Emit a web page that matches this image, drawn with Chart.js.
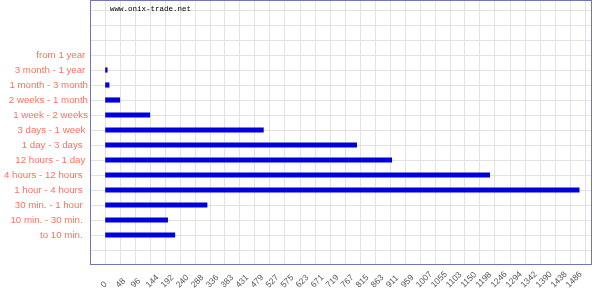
<!DOCTYPE html>
<html>
<head>
<meta charset="utf-8">
<script src="https://cdn.jsdelivr.net/npm/chart.js@4/dist/chart.umd.min.js"></script>
<style>
  html, body { margin: 0; padding: 0; background: #fff; }
  canvas { display: block; }
</style>
</head>
<body>
<canvas id="chart" width="600" height="300"></canvas>
<script>
// categorias (de arriba a abajo) y valores
const categories = [
  "from 1 year ", "3 month - 1 year ", "1 month - 3 month", "2 weeks - 1 month",
  "1 week - 2 weeks", "3 days - 1 week ", "1 day - 3 days  ", "12 hours - 1 day ",
  "4 hours - 12 hours  ", "1 hour - 4 hours  ", "30 min. - 1 hour  ",
  "10 min. - 30 min.  ", "to 10 min.  "
];
const values = [0, 7, 13, 47, 143, 506, 804, 916, 1229, 1515, 326, 200, 223];

// etiquetas del eje x
const xTickLabels = [0, 48, 96, 144, 192, 240, 288, 336, 383, 431, 479, 527, 575, 623, 671, 719,
  767, 815, 863, 911, 959, 1007, 1055, 1103, 1150, 1198, 1246, 1294, 1342, 1390, 1438, 1486];

const siteText = "www.onix-trade.net";

// filas vacias arriba y abajo
const padTop = 3, padBottom = 1;
const rowCount = categories.length + padTop + padBottom;
const xStep = xTickLabels[1] - xTickLabels[0];
const xLast = xTickLabels[xTickLabels.length - 1];

const extras = {
  id: "extras",
  afterDraw(chart) {
    const { ctx, chartArea: a, scales } = chart;
    ctx.save();
    // marco
    ctx.strokeStyle = "#7373b8";
    ctx.lineWidth = 1;
    ctx.strokeRect(a.left + 0.5, a.top + 0.5, a.right - a.left - 1, a.bottom - a.top);
    // etiquetas x giradas
    ctx.fillStyle = "#555";
    ctx.font = "8.5px 'Liberation Sans', Arial, sans-serif";
    ctx.textAlign = "left";
    ctx.textBaseline = "alphabetic";
    xTickLabels.forEach(v => {
      const px = scales.x.getPixelForValue(v);
      ctx.save();
      ctx.translate(px - 1, 288);
      ctx.rotate(-Math.PI / 4);
      ctx.fillText(String(v), 0, 0);
      ctx.restore();
    });
    // texto del sitio
    ctx.fillStyle = "#000";
    ctx.font = "7.5px 'Liberation Mono', 'DejaVu Sans Mono', monospace";
    ctx.fillText(siteText, 110, 11);
    ctx.restore();
  }
};

new Chart(document.getElementById("chart"), {
  type: "bar",
  data: {
    datasets: [{
      data: values.map((v, i) => ({ x: v, y: i + padTop })),
      backgroundColor: values.map(v => v > 0 ? "#0000dd" : "rgba(0,0,0,0)"),
      borderWidth: 0,
      barThickness: 4.5
    }]
  },
  options: {
    indexAxis: "y",
    responsive: false,
    animation: false,
    events: [],
    layout: { padding: { left: 0, right: 8, top: 0, bottom: 0 } },
    plugins: { legend: { display: false }, tooltip: { enabled: false } },
    scales: {
      x: {
        type: "linear",
        min: -xStep,
        max: 1556,
        afterBuildTicks: s => {
          s.ticks = xTickLabels.concat([xLast + xStep]).map(v => ({ value: v }));
        },
        afterFit: s => { s.height = 36; s.paddingLeft = 0; s.paddingRight = 0; },
        ticks: { display: false },
        grid: { color: "#e2e2e2", drawTicks: false },
        border: { display: false }
      },
      y: {
        type: "linear",
        reverse: true,
        offset: false,
        min: -0.667,
        max: 16.933,
        afterBuildTicks: s => {
          s.ticks = Array.from({ length: rowCount }, (_, i) => ({ value: i }));
        },
        afterFit: s => { s.width = 90; s.paddingTop = 0; s.paddingBottom = 0; },
        ticks: {
          padding: 2,
          autoSkip: false,
          color: "#ff6f5f",
          font: { family: "'Liberation Sans', Arial, sans-serif", size: 9.7 },
          callback: v => categories[v - padTop] ?? ""
        },
        grid: { color: "#e2e2e2", drawTicks: false, offset: false },
        border: { display: false }
      }
    }
  },
  plugins: [extras]
});
</script>
</body>
</html>
